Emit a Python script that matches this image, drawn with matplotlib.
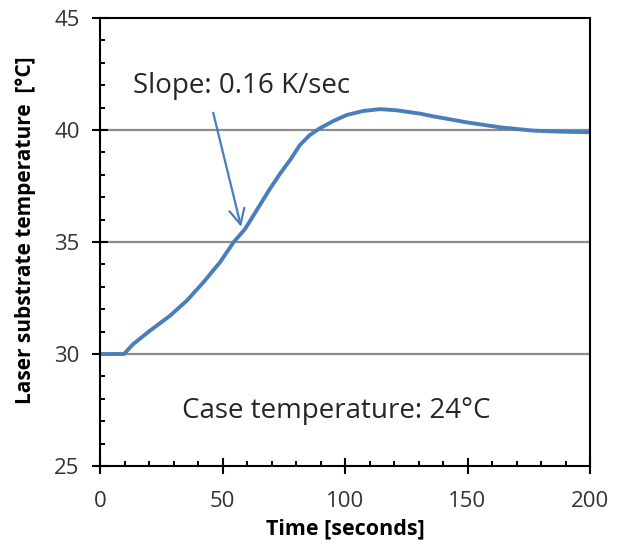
import numpy as np
import matplotlib.pyplot as plt
from matplotlib.ticker import MultipleLocator

# --- Data ---
time_s = [0, 9.8, 13.6, 20.4, 28.6, 35.4, 42.2, 49.0, 54.6, 59.2, 62.6, 69.4,
          73.5, 77.6, 81.6, 85.7, 89.8, 95.2, 100.7, 107.5, 114.3, 121.0,
          130.6, 136.0, 149.7, 163.3, 176.9, 186.4, 200.0]
temp_c = [30.0, 30.0, 30.45, 31.04, 31.71, 32.38, 33.2, 34.1, 35.0, 35.58,
          36.18, 37.38, 38.05, 38.66, 39.33, 39.78, 40.08, 40.4, 40.67, 40.85,
          40.93, 40.88, 40.73, 40.61, 40.34, 40.12, 39.97, 39.93, 39.9]

slope_label = "Slope: 0.16 K/sec"
case_label = "Case temperature: 24\u00b0C"

blue = '#4a7ebb'
plt.rcParams['font.family'] = ['Open Sans', 'DejaVu Sans']

fig = plt.figure(figsize=(6.25, 5.48), dpi=100)
ax = fig.add_axes([0.16, 0.1496, 0.784, 0.8176])

ax.plot(time_s, temp_c, color=blue, linewidth=2.8, solid_joinstyle='round')

ax.set_xlim(0, 200)
ax.set_ylim(25, 45)
ax.xaxis.set_major_locator(MultipleLocator(50))
ax.xaxis.set_minor_locator(MultipleLocator(10))
ax.yaxis.set_major_locator(MultipleLocator(5))
ax.yaxis.set_minor_locator(MultipleLocator(1))

# horizontal gridlines
for y in [30, 35, 40]:
    ax.axhline(y, color='#8c8c8c', linewidth=1.6, zorder=0)

for s in ax.spines.values():
    s.set_linewidth(1.5)
    s.set_color('black')

ax.tick_params(which='major', direction='inout', length=11.5, width=1.5,
               labelsize=16, colors='black', labelcolor='#333333')
ax.tick_params(axis='y', which='major', pad=9)
ax.tick_params(axis='x', which='major', pad=12.5)
ax.tick_params(which='minor', direction='in', length=3.8, width=1.4)
ax.tick_params(axis='x', which='both', top=False)
ax.tick_params(axis='y', which='both', right=False)

ax.set_xlabel("Time [seconds]", fontsize=15.5, fontweight='bold')
ax.set_ylabel("Laser substrate temperature  [\u00b0C]", fontsize=15,
              fontweight='bold')
ax.xaxis.set_label_coords(0.5, -0.118)
ax.yaxis.set_label_coords(-0.13, 0.527)

ax.text(13.5, 41.64, slope_label, fontsize=20, color='#262626', va='baseline')
ax.text(33.3, 27.13, case_label, fontsize=20, color='#262626', va='baseline')

ax.annotate('', xy=(57.6, 35.68), xytext=(46.2, 40.77),
            arrowprops=dict(arrowstyle='->,head_length=1.1,head_width=0.55',
                            color=blue, linewidth=1.6,
                            shrinkA=0, shrinkB=0))

fig.savefig('out.png', dpi=100)
